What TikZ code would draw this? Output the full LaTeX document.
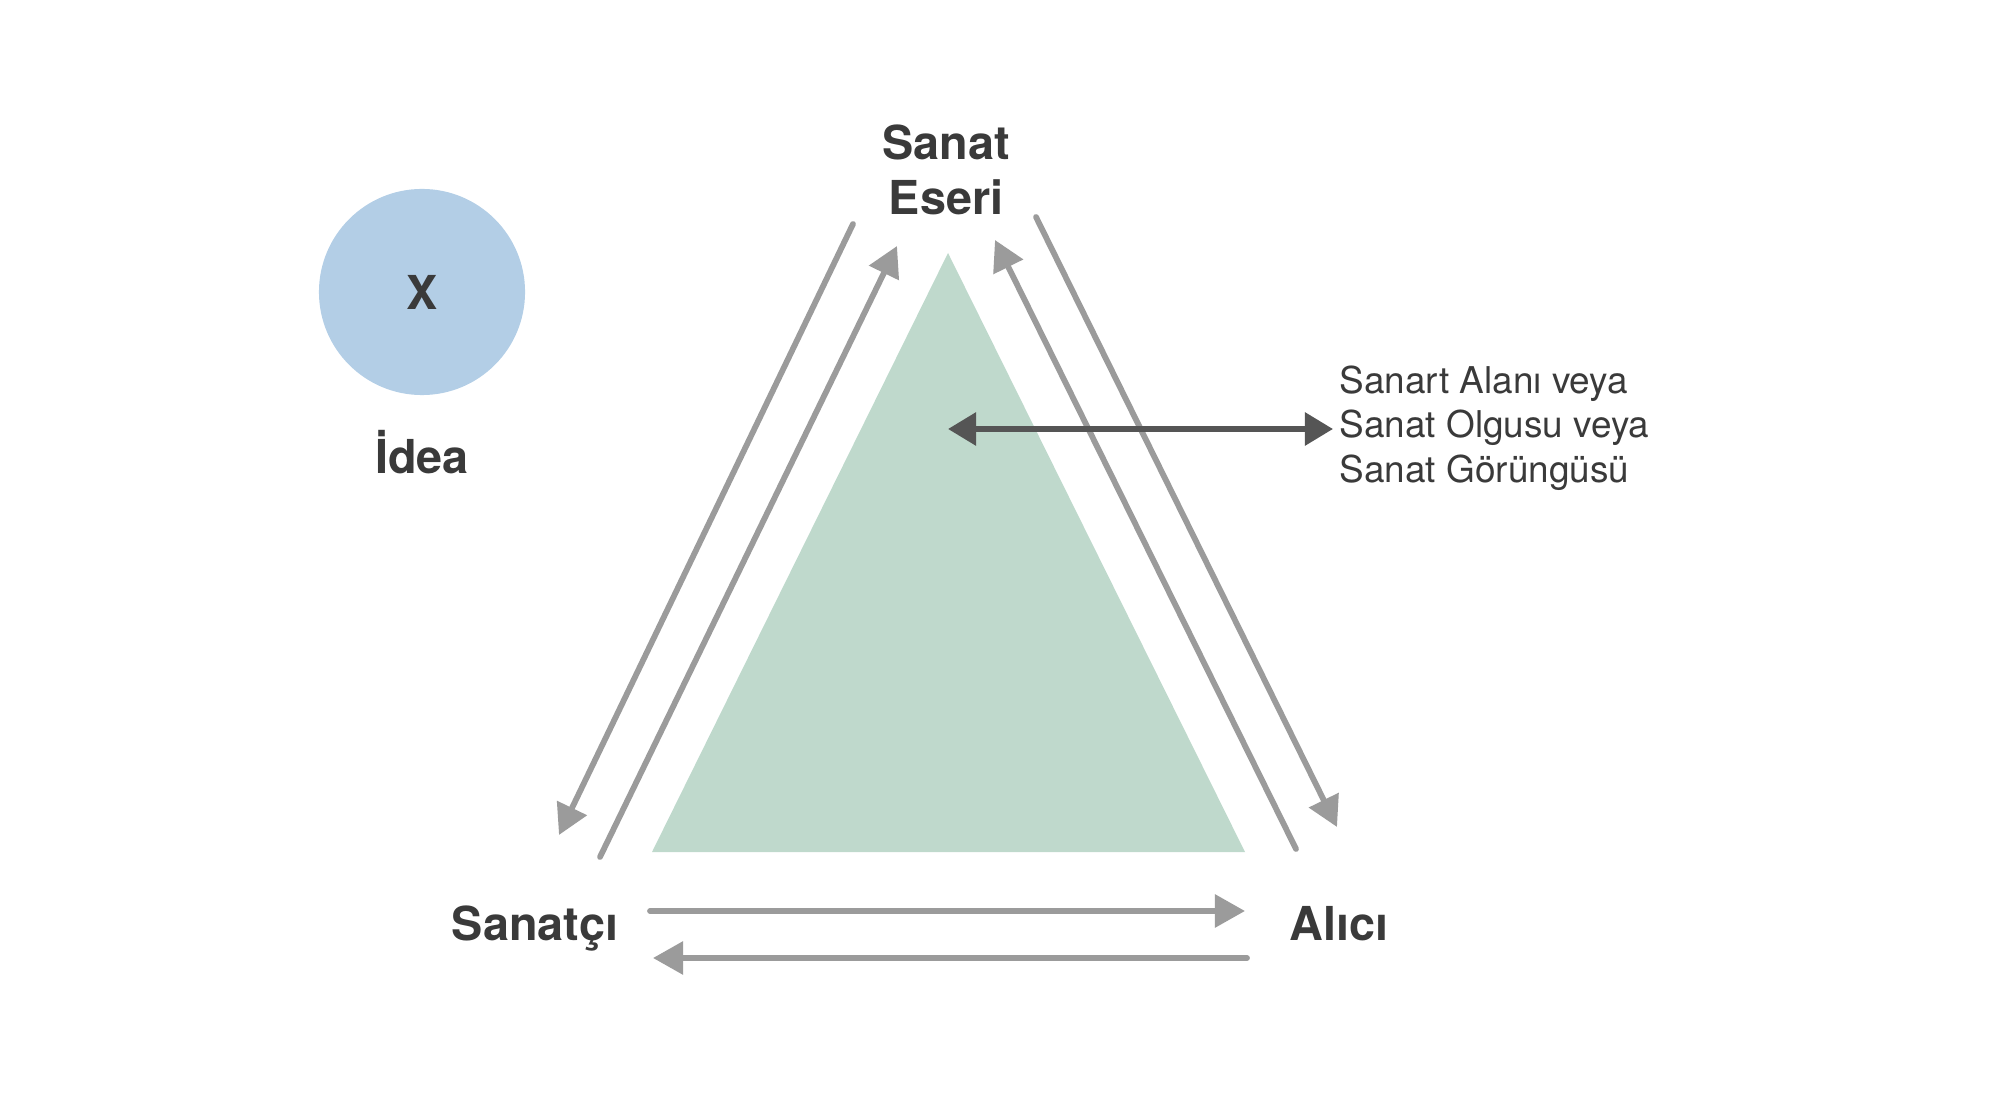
\documentclass[tikz,border=0pt]{standalone}
\usepackage{fontspec}
\setmainfont{TeX Gyre Heros}
\usetikzlibrary{arrows.meta, positioning}

\definecolor{arrowgray}{HTML}{9B9B9B}
\definecolor{darkarrow}{HTML}{555555}
\definecolor{labelgray}{HTML}{3A3A3A}
\definecolor{ideablue}{HTML}{B3CEE6}
\definecolor{fieldgreen}{HTML}{BFD9CC}

\tikzset{
  flow/.style={arrowgray, line width=0.058cm, line cap=round, -{Triangle[length=0.3cm,width=0.32cm]}},
  pointer/.style={darkarrow, line width=0.058cm, {Triangle[length=0.28cm,width=0.32cm]}-{Triangle[length=0.28cm,width=0.32cm]}},
  corner/.style={font=\bfseries\fontsize{13.3}{15.6}\selectfont, text=labelgray, align=center, inner sep=0pt},
}

\begin{document}
\begin{tikzpicture}[x=0.01cm, y=-0.01cm]
    \useasboundingbox (0,0) rectangle (2000,1119);

    % Idea circle
    \node[circle, fill=ideablue, minimum size=2.06cm, corner] (x) at (422,292) {X};
    \node[corner, anchor=base] (idea) at (422,474) {İdea};

    % Art field
    \coordinate (top) at (948,253);
    \coordinate (right) at (1245,852);
    \coordinate (left) at (652,852);
    \fill[fieldgreen] (top) -- (right) -- (left) -- cycle;

    % Corners of the triangle
    \node[corner] (eser) at (946,170) {Sanat\\Eseri};
    \node[corner, anchor=base] (sanatci) at (535,940) {Sanatçı};
    \node[corner, anchor=base] (alici) at (1339,940) {Alıcı};

    % Left side: Eser <-> Sanatçı
    \coordinate (l1) at (853,224);  \coordinate (l2) at (559,835);
    \coordinate (l3) at (600,857);  \coordinate (l4) at (897,246);
    \draw[flow] (l1) -- (l2);
    \draw[flow] (l3) -- (l4);

    % Right side: Eser <-> Alıcı
    \coordinate (r1) at (1036,217); \coordinate (r2) at (1337,827);
    \coordinate (r3) at (1296,849); \coordinate (r4) at (995,240);
    \draw[flow] (r1) -- (r2);
    \draw[flow] (r3) -- (r4);

    % Bottom: Sanatçı <-> Alıcı
    \coordinate (b1) at (650,911);  \coordinate (b2) at (1245,911);
    \coordinate (b3) at (1247,958); \coordinate (b4) at (653,958);
    \draw[flow] (b1) -- (b2);
    \draw[flow] (b3) -- (b4);

    % Field label
    \node[anchor=west, inner sep=0pt, align=left, text=labelgray,
          font=\fontsize{10.5}{12.7}\selectfont] (alan) at (1339,428)
          {Sanart Alanı veya\\Sanat Olgusu veya\\Sanat Görüngüsü};
    \coordinate (inner) at (948,429);
    \draw[pointer] (inner) -- ([xshift=-0.06cm]inner -| alan.west);

\end{tikzpicture}
\end{document}
